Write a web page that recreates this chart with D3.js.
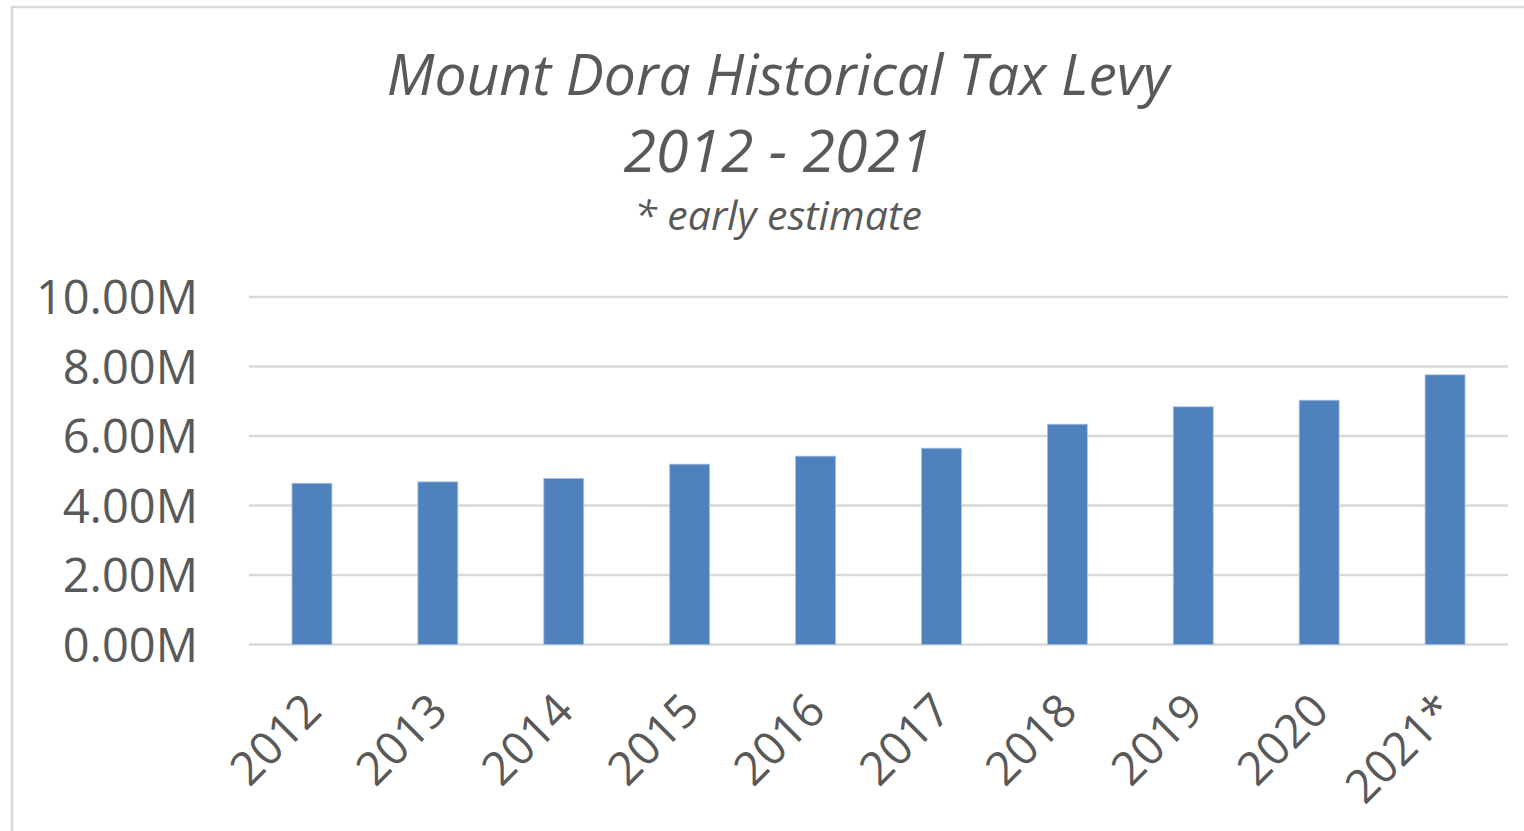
<!DOCTYPE html>
<html>
<head>
<meta charset="utf-8">
<script src="https://cdn.jsdelivr.net/npm/d3@7"></script>
<style>
  html, body { margin: 0; padding: 0; background: #fff; }
  svg { display: block; }
</style>
</head>
<body>
<svg id="chart" width="1524" height="831"></svg>
<script>
const categories = ["2012", "2013", "2014", "2015", "2016", "2017", "2018", "2019", "2020", "2021*"];
const levyValues = [4.64, 4.68, 4.78, 5.19, 5.42, 5.65, 6.34, 6.84, 7.03, 7.76]; // millions
const yTicks = [0, 2, 4, 6, 8, 10];
const titleLines = ["Mount Dora Historical Tax Levy", "2012 - 2021"];
const subtitle = "* early estimate";

const svg = d3.select("#chart");
const textColor = "#595959";
const font = "'Open Sans', 'Noto Sans', sans-serif";

// chart border (cropped at right/bottom)
svg.append("rect")
  .attr("x", 12).attr("y", 7)
  .attr("width", 1600).attr("height", 900)
  .attr("fill", "#fff")
  .attr("stroke", "#d9d9d9").attr("stroke-width", 2.5);

const plot = { left: 249, right: 1508, top: 297, bottom: 644.5 };

const x = d3.scaleBand()
  .domain(categories)
  .range([plot.left, plot.right])
  .paddingInner(0.683)
  .paddingOuter(0.3415);

const y = d3.scaleLinear()
  .domain([0, 10])
  .range([plot.bottom, plot.top]);

// gridlines
svg.append("g")
  .selectAll("line")
  .data(yTicks)
  .join("line")
  .attr("x1", plot.left).attr("x2", plot.right)
  .attr("y1", d => y(d)).attr("y2", d => y(d))
  .attr("stroke", "#d9d9d9").attr("stroke-width", 2.5);

// bars
svg.append("g")
  .selectAll("rect")
  .data(levyValues)
  .join("rect")
  .attr("x", (d, i) => x(categories[i]))
  .attr("width", x.bandwidth())
  .attr("y", d => y(d))
  .attr("height", d => y(0) - y(d))
  .attr("fill", "#4f81bd")
  .attr("stroke", "#a9c1e0").attr("stroke-width", 0.8);

// y axis labels
const yAxis = d3.axisLeft(y)
  .tickValues(yTicks)
  .tickSize(0)
  .tickPadding(0)
  .tickFormat(d => d3.format(".2f")(d) + "M");
const gy = svg.append("g")
  .attr("transform", `translate(198,0)`)
  .call(yAxis);
gy.select(".domain").remove();
gy.selectAll("text")
  .attr("fill", textColor)
  .attr("font-family", font)
  .attr("font-size", 47)
  .attr("dy", "0.36em");

// x axis labels
const xAxis = d3.axisBottom(x).tickSize(0).tickPadding(0);
const gx = svg.append("g")
  .attr("transform", `translate(0,${plot.bottom})`)
  .call(xAxis);
gx.select(".domain").remove();
gx.selectAll("text")
  .attr("fill", textColor)
  .attr("font-family", font)
  .attr("font-size", 46)
  .attr("text-anchor", "end")
  .attr("dy", "0")
  .attr("transform", "translate(12,69) rotate(-45)");

// titles
const cx = 778;
svg.append("text")
  .attr("x", cx).attr("y", 95)
  .attr("text-anchor", "middle")
  .attr("font-family", font).attr("font-style", "italic")
  .attr("font-size", 57).attr("fill", textColor)
  .text(titleLines[0]);
svg.append("text")
  .attr("x", cx).attr("y", 172)
  .attr("text-anchor", "middle")
  .attr("font-family", font).attr("font-style", "italic")
  .attr("font-size", 59).attr("fill", textColor)
  .text(titleLines[1]);
svg.append("text")
  .attr("x", cx).attr("y", 230)
  .attr("text-anchor", "middle")
  .attr("font-family", font).attr("font-style", "italic")
  .attr("font-size", 41).attr("fill", textColor)
  .text(subtitle);
</script>
</body>
</html>
